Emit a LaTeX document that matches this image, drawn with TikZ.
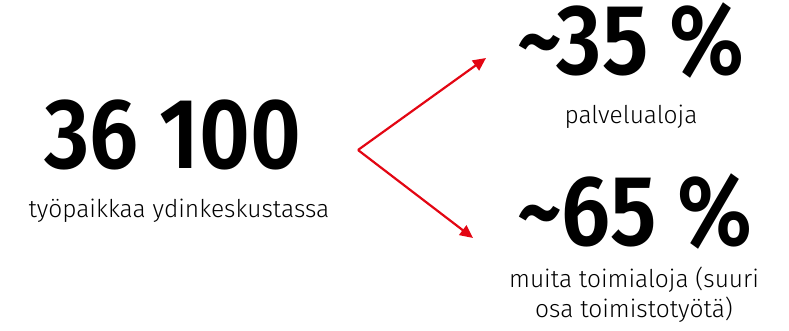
\documentclass[tikz,border=0pt]{standalone}
\usepackage{fontspec}
\setmainfont{Fira Sans Light}
\newfontfamily\bigfont[FakeStretch=0.88]{Fira Sans SemiBold}
\usetikzlibrary{arrows.meta}
\definecolor{arrred}{RGB}{227,6,19}
\begin{document}
\begin{tikzpicture}[x=1pt,y=-1pt,
  big/.style={font=\bigfont\fontsize{100}{110}\selectfont, inner sep=0pt, text depth=0pt},
  small/.style={font=\fontsize{24.5}{30}\selectfont, inner sep=0pt, align=center},
  conn/.style={draw=arrred, line width=2.2pt, -{Triangle[length=13pt,width=12pt]}}]
\useasboundingbox (0,0) rectangle (789,331);
\node[big, anchor=base] (tot) at (173,168) {36 100};
\node[small, anchor=base] (totl) at (179,217) {työpaikkaa ydinkeskustassa};
\node[big, anchor=base] (p35) at (631,75) {\char`\~35 \%};
\node[small, anchor=base] (p35l) at (631,124) {palvelualoja};
\node[big, anchor=base] (p65) at (635,245) {\char`\~65 \%};
\node[small, anchor=base] (p65l) at (634,287) {muita toimialoja (suuri};
\node[small, anchor=base] (p65m) at (634,317) {osa toimistotyötä)};
\coordinate (split) at (358,150);
\coordinate (t1) at (486,58);
\coordinate (t2) at (473,238);
\draw[conn] (split) -- (t1);
\draw[conn] (split) -- (t2);
\end{tikzpicture}
\end{document}
